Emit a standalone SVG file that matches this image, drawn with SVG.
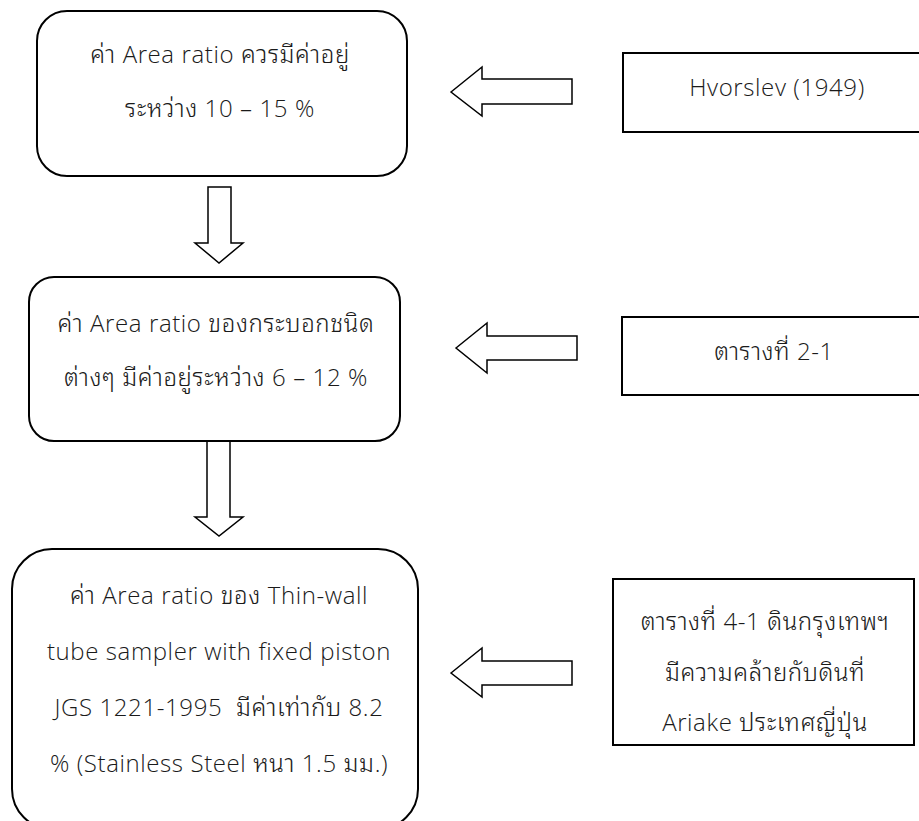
<svg xmlns="http://www.w3.org/2000/svg" width="919" height="821" viewBox="0 0 919 821">
  <style>
    .box { fill: #ffffff; stroke: #000000; stroke-width: 2; }
    .arrow { fill: #ffffff; stroke: #000000; stroke-width: 1.5; stroke-linejoin: miter; }
    text { font-family: "Open Sans", "Noto Sans", "Noto Sans Thai Looped", "Noto Sans Thai", "DejaVu Sans", sans-serif; font-size: 24px; font-weight: 300; letter-spacing: 0.6px; fill: #1a1a1a; text-anchor: middle; }
  </style>
  <rect width="919" height="821" fill="#ffffff"/>

  <!-- block arrows -->
  <g id="connectors">
    <polygon class="arrow" points="451,92 482,67 482,79 572,79 572,104 482,104 482,116"/>
    <polygon class="arrow" points="456,348 487,323 487,336 577,336 577,360 487,360 487,373"/>
    <polygon class="arrow" points="451,673 482,648 482,661 572,661 572,685 482,685 482,697"/>
    <polygon class="arrow" points="208,187 231,187 231,243 243,243 219,263 195,243 208,243"/>
    <polygon class="arrow" points="207,423 230,423 230,517 243,517 219,536 195,517 207,517"/>
  </g>

  <g id="criterion">
    <rect class="box" x="37" y="11" width="370" height="165" rx="30" ry="30"/>
    <text x="220" y="63">ค่า Area ratio ควรมีค่าอยู่</text>
    <text x="220" y="117">ระหว่าง 10 – 15 %</text>
  </g>

  <g id="hvorslev">
    <rect class="box" x="623" y="53" width="310" height="79"/>
    <text x="777" y="96">Hvorslev (1949)</text>
  </g>

  <g id="sampler-range">
    <rect class="box" x="29" y="277" width="371" height="164" rx="25" ry="25"/>
    <text x="216" y="332">ค่า Area ratio ของกระบอกชนิด</text>
    <text x="216" y="386">ต่างๆ มีค่าอยู่ระหว่าง 6 – 12 %</text>
  </g>

  <g id="table-2-1">
    <rect class="box" x="622" y="317" width="310" height="78"/>
    <text x="774" y="360">ตารางที่ 2-1</text>
  </g>

  <g id="jgs-sampler">
    <rect class="box" x="12" y="549" width="406" height="280" rx="40" ry="40"/>
    <text x="219" y="604">ค่า Area ratio ของ Thin-wall</text>
    <text x="219" y="660">tube sampler with fixed piston</text>
    <text x="219" y="716" xml:space="preserve">JGS 1221-1995  มีค่าเท่ากับ 8.2</text>
    <text x="219" y="772">% (Stainless Steel หนา 1.5 มม.)</text>
  </g>

  <g id="table-4-1">
    <rect class="box" x="613" y="579" width="301" height="166"/>
    <text x="765" y="630">ตารางที่ 4-1 ดินกรุงเทพฯ</text>
    <text x="765" y="681">มีความคล้ายกับดินที่</text>
    <text x="765" y="731">Ariake ประเทศญี่ปุ่น</text>
  </g>
</svg>
